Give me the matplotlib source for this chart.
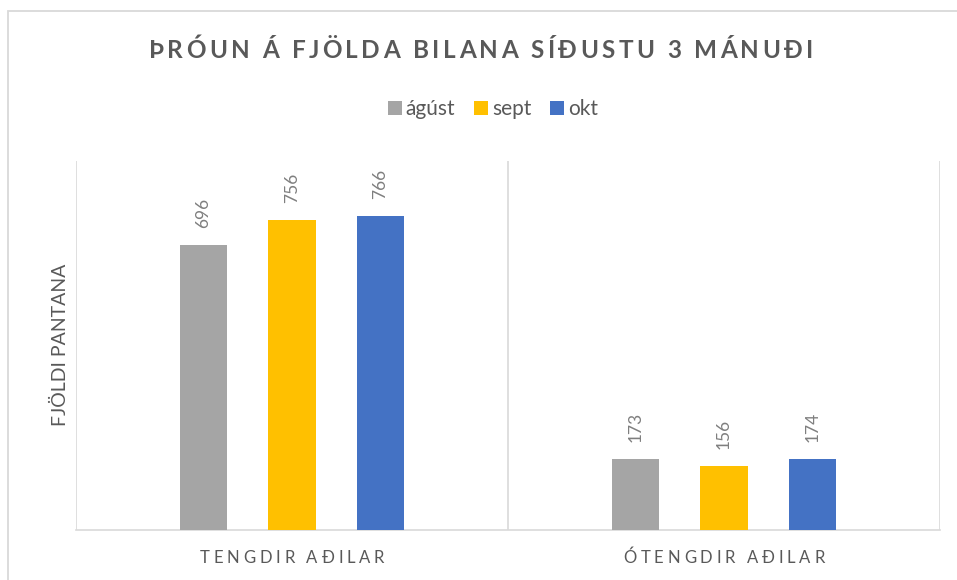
import matplotlib
matplotlib.use("Agg")
import matplotlib.pyplot as plt
from matplotlib.transforms import IdentityTransform
from matplotlib.patches import Rectangle
import numpy as np

plt.rcParams['font.family'] = ['Lato', 'DejaVu Sans']

title = "ÞRÓUN Á FJÖLDA BILANA SÍÐUSTU 3 MÁNUÐI"
ylabel = "FJÖLDI PANTANA"
categories = ["TENGDIR AÐILAR", "ÓTENGDIR AÐILAR"]
series_names = ["ágúst", "sept", "okt"]
agust = [696, 173]
sept = [756, 156]
okt = [766, 174]
series_values = [agust, sept, okt]
colors = ["#A5A5A5", "#FFC000", "#4472C4"]

W, H, DPI = 957, 580, 100
fig = plt.figure(figsize=(W / DPI, H / DPI), dpi=DPI)
fig.patch.set_facecolor("white")

# chart border
fig.patches.append(Rectangle((8 / W, -0.1), 1.2, 1 - 10.5 / H + 0.1,
                             transform=fig.transFigure, fill=False,
                             edgecolor="#D9D9D9", linewidth=1.3))

ax = fig.add_axes([76 / W, 1 - 530 / H, (940 - 76) / W, (530 - 161) / H])
x = np.arange(len(categories))
offsets = [-0.205, 0.0, 0.205]
bw = 0.109
for vals, name, c, off in zip(series_values, series_names, colors, offsets):
    bars = ax.bar(x + off, vals, width=bw, color=c, label=name, zorder=3)
    for b, v in zip(bars, vals):
        ax.annotate(str(v), (b.get_x() + b.get_width() / 2, v),
                    xytext=(0, 12), textcoords="offset points",
                    rotation=90, ha="center", va="bottom",
                    fontsize=12.5, color="#7F7F7F")

ax.set_xlim(-0.5, len(categories) - 0.5)
ax.set_ylim(0, 900)
for s in ["top", "right", "left"]:
    ax.spines[s].set_visible(False)
ax.spines["bottom"].set_color("#D9D9D9")
ax.spines["bottom"].set_linewidth(1.2)
for xs in np.arange(-0.5, len(categories), 1.0):
    ax.axvline(xs, color="#D9D9D9", linewidth=1.2, zorder=1)
ax.set_yticks([])
ax.set_xticks(x)
ax.set_xticklabels([])
ax.tick_params(axis="x", length=0)

renderer = fig.canvas.get_renderer()


def measure(s, **kw):
    t = fig.text(0, 0, s, **kw)
    w = t.get_window_extent(renderer).width
    t.remove()
    return w


def spaced(s, cx, baseline_y, spacing, **kw):
    ref = measure("||", **kw)
    widths = [measure("|" + ch + "|", **kw) - ref for ch in s]
    total = sum(widths) + spacing * (len(s) - 1)
    xpos = cx - total / 2
    for ch, w in zip(s, widths):
        if ch != " ":
            fig.text(xpos, baseline_y, ch, transform=IdentityTransform(),
                     ha="left", va="baseline", **kw)
        xpos += w + spacing


# title
spaced(title, 481, H - 58, 3.4, fontsize=17.5, fontweight="bold", color="#595959")

# x category labels (letter spaced)
for i, cat in enumerate(categories):
    cx = ax.transData.transform((x[i], 0))[0]
    spaced(cat, cx, H - 563, 3.8, fontsize=12, color="#595959")

# y label
fig.text(60 / W, 1 - 345 / H, ylabel, rotation=90, ha="center", va="center",
         fontsize=14, color="#595959")

# legend
leg = fig.legend(loc="center", bbox_to_anchor=(493 / W, 1 - 109 / H), ncol=3,
                 frameon=False, fontsize=15, handlelength=0.67, handleheight=0.67,
                 handletextpad=0.2, columnspacing=0.9, labelcolor="#595959")

fig.savefig("out.png", dpi=DPI, facecolor="white")
